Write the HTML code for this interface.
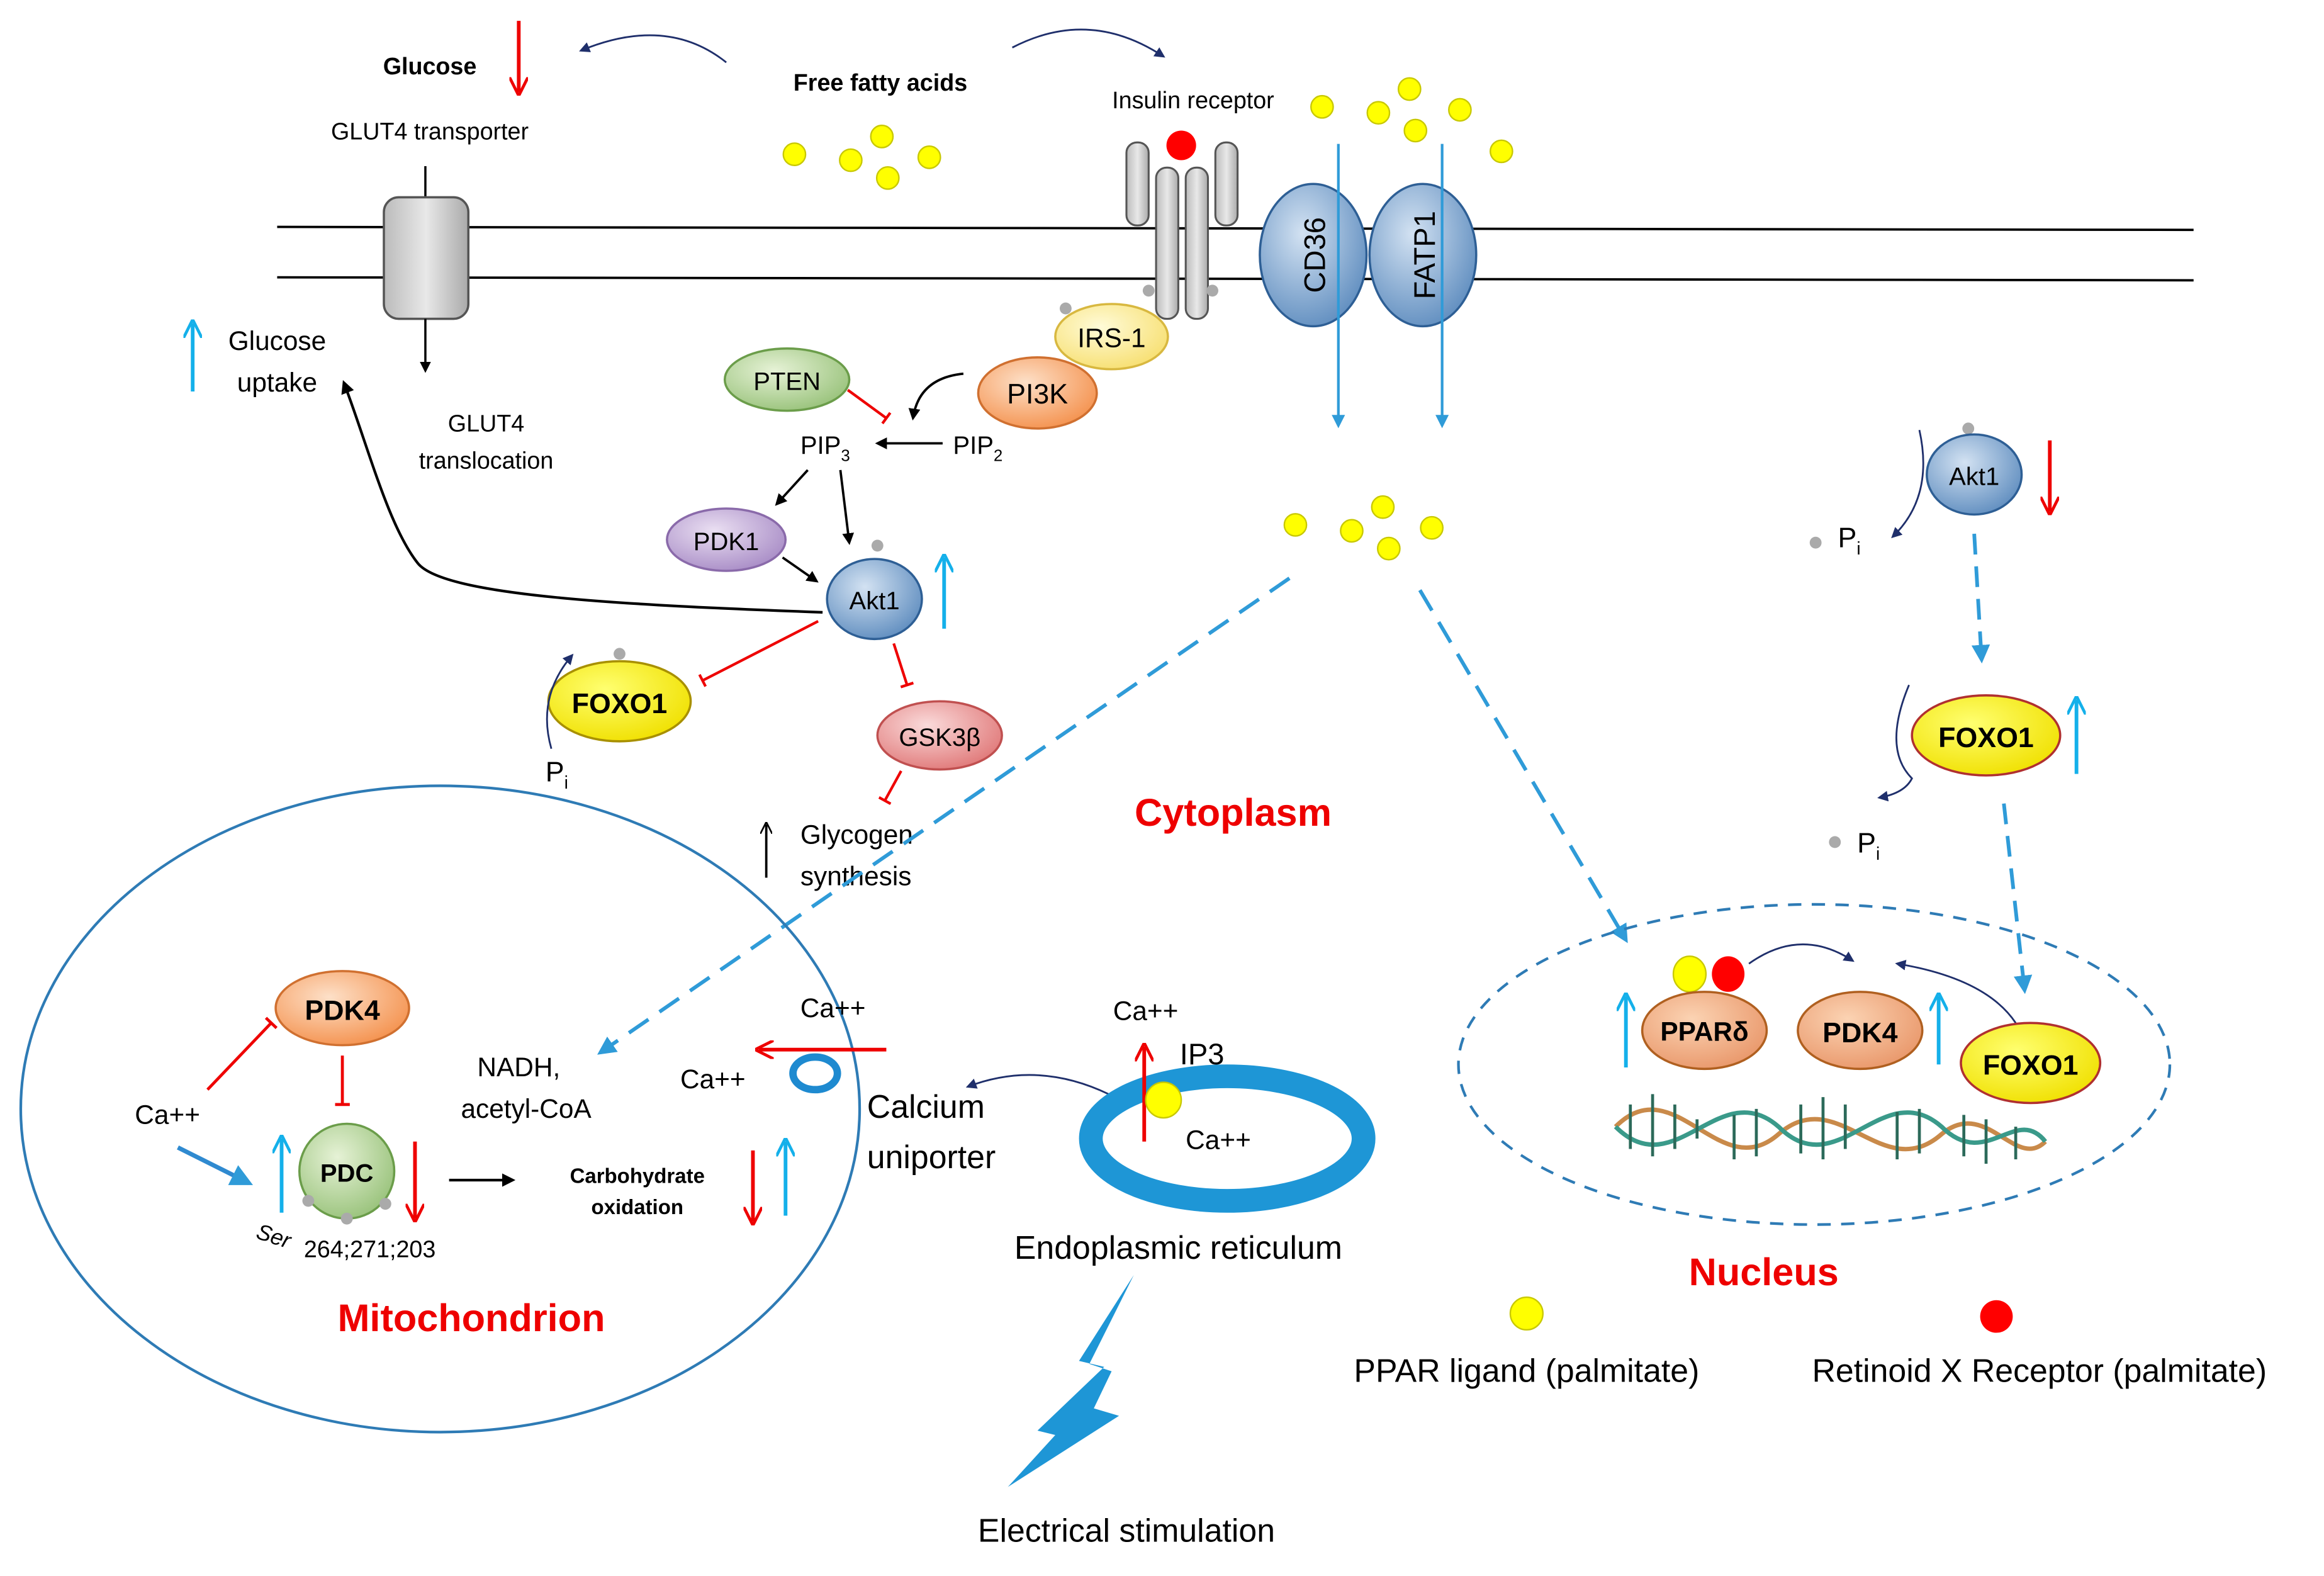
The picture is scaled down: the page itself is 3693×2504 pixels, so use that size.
<!DOCTYPE html>
<html><head><meta charset="utf-8"><style>
html,body{margin:0;padding:0;background:#fff;}
svg{display:block;}
text{font-family:"Liberation Sans",sans-serif;}
</style></head><body>
<svg width="3693" height="2504" viewBox="0 0 1568 1063" xmlns="http://www.w3.org/2000/svg">
<defs>
<radialGradient id="gBlue" cx="40%" cy="35%" r="70%"><stop offset="0" stop-color="#d3e2f2"/><stop offset="1" stop-color="#5f8dbf"/></radialGradient>
<radialGradient id="gOr" cx="40%" cy="35%" r="70%"><stop offset="0" stop-color="#fde0c8"/><stop offset="1" stop-color="#f4914d"/></radialGradient>
<radialGradient id="gOr2" cx="40%" cy="35%" r="70%"><stop offset="0" stop-color="#fbd3b3"/><stop offset="1" stop-color="#e9976a"/></radialGradient>
<radialGradient id="gYel" cx="40%" cy="35%" r="70%"><stop offset="0" stop-color="#ffff70"/><stop offset="1" stop-color="#f0e000"/></radialGradient>
<radialGradient id="gLY" cx="40%" cy="35%" r="70%"><stop offset="0" stop-color="#fffbd8"/><stop offset="1" stop-color="#f7df70"/></radialGradient>
<radialGradient id="gGr" cx="40%" cy="35%" r="70%"><stop offset="0" stop-color="#e6f2d6"/><stop offset="1" stop-color="#98c27a"/></radialGradient>
<radialGradient id="gPu" cx="40%" cy="35%" r="70%"><stop offset="0" stop-color="#eadff2"/><stop offset="1" stop-color="#a88cc6"/></radialGradient>
<radialGradient id="gPk" cx="40%" cy="35%" r="70%"><stop offset="0" stop-color="#fadada"/><stop offset="1" stop-color="#e07878"/></radialGradient>
<linearGradient id="gGray" x1="0" x2="1"><stop offset="0" stop-color="#bbb"/><stop offset=".5" stop-color="#e8e8e8"/><stop offset="1" stop-color="#aaa"/></linearGradient>
<marker id="aK" viewBox="0 0 10 10" refX="8" refY="5" markerWidth="5" markerHeight="5" orient="auto"><path d="M0,0L10,5L0,10z" fill="#000"/></marker>
<marker id="aN" viewBox="0 0 10 10" refX="8" refY="5" markerWidth="6" markerHeight="6" orient="auto"><path d="M0,0L10,5L0,10z" fill="#1f2f6b"/></marker>
<marker id="aC" viewBox="0 0 10 10" refX="8" refY="5" markerWidth="5" markerHeight="5" orient="auto"><path d="M0,0L10,5L0,10z" fill="#2f9bd8"/></marker>
<marker id="aCo" viewBox="0 0 10 10" refX="8" refY="5" markerWidth="5" markerHeight="5" orient="auto"><path d="M0,0L10,5L0,10" fill="none" stroke="#14b0ea" stroke-width="1.6"/></marker>
<marker id="aR" viewBox="0 0 10 10" refX="8" refY="5" markerWidth="5" markerHeight="5" orient="auto"><path d="M0,0L10,5L0,10" fill="none" stroke="#e00" stroke-width="1.6"/></marker>
<marker id="aKo" viewBox="0 0 10 10" refX="8" refY="5" markerWidth="5" markerHeight="5" orient="auto"><path d="M0,0L10,5L0,10" fill="none" stroke="#000" stroke-width="1.4"/></marker>
<marker id="tR" viewBox="0 0 10 10" refX="5" refY="5" markerWidth="5" markerHeight="5" orient="auto"><path d="M5,0L5,10" stroke="#e00" stroke-width="2"/></marker>
</defs>

<line x1="187" y1="153" x2="1480" y2="155" stroke="#000" stroke-width="1.6"/>
<line x1="187" y1="187" x2="1480" y2="189" stroke="#000" stroke-width="1.6"/>

<text x="290" y="50" font-size="16" font-weight="bold" text-anchor="middle">Glucose</text>
<line x1="350" y1="14" x2="350" y2="62" stroke="#e00" stroke-width="2.5" marker-end="url(#aR)"/>
<path d="M490,42 Q450,10 392,34" fill="none" stroke="#1f2f6b" stroke-width="1.2" marker-end="url(#aN)"/>
<text x="290" y="94" font-size="16" text-anchor="middle">GLUT4 transporter</text>
<line x1="287" y1="112" x2="287" y2="134" stroke="#000" stroke-width="1.5"/>
<rect x="259" y="133" width="57" height="82" rx="10" fill="url(#gGray)" stroke="#555" stroke-width="1.5"/>
<line x1="287" y1="215" x2="287" y2="250" stroke="#000" stroke-width="1.5" marker-end="url(#aK)"/>
<text x="328" y="291" font-size="16" text-anchor="middle">GLUT4</text>
<text x="328" y="316" font-size="16" text-anchor="middle">translocation</text>
<line x1="130" y1="264" x2="130" y2="218" stroke="#14b0ea" stroke-width="2.5" marker-end="url(#aCo)"/>
<text x="187" y="236" font-size="18" text-anchor="middle">Glucose</text>
<text x="187" y="264" font-size="18" text-anchor="middle">uptake</text>

<text x="594" y="61" font-size="16" font-weight="bold" text-anchor="middle">Free fatty acids</text>
<path d="M683,32 Q735,5 785,38" fill="none" stroke="#1f2f6b" stroke-width="1.2" marker-end="url(#aN)"/>
<g fill="#ffff00" stroke="#c8c800" stroke-width="1">
<circle cx="536" cy="104" r="7.5"/><circle cx="574" cy="108" r="7.5"/><circle cx="595" cy="92" r="7.5"/><circle cx="599" cy="120" r="7.5"/><circle cx="627" cy="106" r="7.5"/>
<circle cx="892" cy="72" r="7.5"/><circle cx="930" cy="76" r="7.5"/><circle cx="951" cy="60" r="7.5"/><circle cx="955" cy="88" r="7.5"/><circle cx="985" cy="74" r="7.5"/><circle cx="1013" cy="102" r="7.5"/>
<circle cx="874" cy="354" r="7.5"/><circle cx="912" cy="358" r="7.5"/><circle cx="933" cy="342" r="7.5"/><circle cx="937" cy="370" r="7.5"/><circle cx="966" cy="356" r="7.5"/>
</g>

<text x="805" y="73" font-size="16" text-anchor="middle">Insulin receptor</text>
<g fill="url(#gGray)" stroke="#555" stroke-width="1.3">
<rect x="760" y="96" width="15" height="56" rx="7"/>
<rect x="780" y="113" width="15" height="102" rx="7"/>
<rect x="800" y="113" width="15" height="102" rx="7"/>
<rect x="820" y="96" width="15" height="56" rx="7"/>
</g>
<circle cx="797" cy="98" r="10" fill="#f00"/>
<circle cx="775" cy="196" r="4" fill="#aaa"/><circle cx="818" cy="196" r="4" fill="#aaa"/><circle cx="719" cy="208" r="4" fill="#aaa"/>

<ellipse cx="886" cy="172" rx="36" ry="48" fill="url(#gBlue)" stroke="#2e5f95" stroke-width="1.5"/>
<text transform="translate(894,172) rotate(-90)" font-size="20" text-anchor="middle">CD36</text>
<ellipse cx="960" cy="172" rx="36" ry="48" fill="url(#gBlue)" stroke="#2e5f95" stroke-width="1.5"/>
<text transform="translate(968,172) rotate(-90)" font-size="20" text-anchor="middle">FATP1</text>
<line x1="903" y1="97" x2="903" y2="287" stroke="#2f9bd8" stroke-width="1.8" marker-end="url(#aC)"/>
<line x1="973" y1="97" x2="973" y2="287" stroke="#2f9bd8" stroke-width="1.8" marker-end="url(#aC)"/>

<ellipse cx="750" cy="227" rx="38" ry="22" fill="url(#gLY)" stroke="#d8b840" stroke-width="1.5"/>
<text x="750" y="234" font-size="18" text-anchor="middle">IRS-1</text>
<ellipse cx="700" cy="265" rx="40" ry="24" fill="url(#gOr)" stroke="#d07030" stroke-width="1.5"/>
<text x="700" y="272" font-size="19" text-anchor="middle">PI3K</text>
<ellipse cx="531" cy="256" rx="42" ry="21" fill="url(#gGr)" stroke="#6b9d4a" stroke-width="1.5"/>
<text x="531" y="263" font-size="17" text-anchor="middle">PTEN</text>
<line x1="572" y1="263" x2="598" y2="282" stroke="#e00" stroke-width="1.8" marker-end="url(#tR)"/>
<path d="M650,252 Q620,255 616,282" fill="none" stroke="#000" stroke-width="1.6" marker-end="url(#aK)"/>
<text x="540" y="306" font-size="17">PIP<tspan font-size="11" dy="5">3</tspan></text>
<text x="643" y="306" font-size="17">PIP<tspan font-size="11" dy="5">2</tspan></text>
<line x1="636" y1="299" x2="592" y2="299" stroke="#000" stroke-width="1.6" marker-end="url(#aK)"/>
<line x1="545" y1="317" x2="524" y2="340" stroke="#000" stroke-width="1.6" marker-end="url(#aK)"/>
<line x1="567" y1="317" x2="573" y2="366" stroke="#000" stroke-width="1.6" marker-end="url(#aK)"/>
<ellipse cx="490" cy="364" rx="40" ry="21" fill="url(#gPu)" stroke="#8a6aaa" stroke-width="1.5"/>
<text x="490" y="371" font-size="17" text-anchor="middle">PDK1</text>
<line x1="528" y1="376" x2="551" y2="392" stroke="#000" stroke-width="1.6" marker-end="url(#aK)"/>
<circle cx="592" cy="368" r="4" fill="#aaa"/>
<ellipse cx="590" cy="404" rx="32" ry="27" fill="url(#gBlue)" stroke="#2e5f95" stroke-width="1.5"/>
<text x="590" y="411" font-size="17" text-anchor="middle">Akt1</text>
<line x1="637" y1="424" x2="637" y2="376" stroke="#14b0ea" stroke-width="2.5" marker-end="url(#aCo)"/>
<path d="M555,413 C420,408 300,402 282,380 C262,355 248,300 232,258" fill="none" stroke="#000" stroke-width="1.8" marker-end="url(#aK)"/>
<line x1="552" y1="419" x2="474" y2="459" stroke="#e00" stroke-width="1.8" marker-end="url(#tR)"/>
<line x1="603" y1="434" x2="612" y2="462" stroke="#e00" stroke-width="1.8" marker-end="url(#tR)"/>
<circle cx="418" cy="441" r="4" fill="#aaa"/>
<ellipse cx="418" cy="473" rx="48" ry="27" fill="url(#gYel)" stroke="#a89000" stroke-width="1.5"/>
<text x="418" y="481" font-size="19" font-weight="bold" text-anchor="middle">FOXO1</text>
<path d="M372,505 Q362,470 386,442" fill="none" stroke="#1f2f6b" stroke-width="1.2" marker-end="url(#aN)"/>
<text x="368" y="527" font-size="19">P<tspan font-size="12" dy="5">i</tspan></text>
<ellipse cx="634" cy="496" rx="42" ry="23" fill="url(#gPk)" stroke="#c05050" stroke-width="1.5"/>
<text x="634" y="503" font-size="17" text-anchor="middle">GSK3β</text>
<line x1="608" y1="520" x2="597" y2="540" stroke="#e00" stroke-width="1.8" marker-end="url(#tR)"/>
<line x1="517" y1="592" x2="517" y2="556" stroke="#000" stroke-width="1.6" marker-end="url(#aKo)"/>
<text x="540" y="569" font-size="18">Glycogen</text>
<text x="540" y="597" font-size="18">synthesis</text>

<text x="832" y="557" font-size="26" font-weight="bold" fill="#e00" text-anchor="middle">Cytoplasm</text>

<line x1="870" y1="390" x2="405" y2="710" stroke="#2f9bd8" stroke-width="2.5" stroke-dasharray="16,9" marker-end="url(#aC)"/>
<line x1="958" y1="398" x2="1097" y2="634" stroke="#2f9bd8" stroke-width="2.5" stroke-dasharray="16,9" marker-end="url(#aC)"/>

<circle cx="1328" cy="289" r="4" fill="#aaa"/>
<ellipse cx="1332" cy="320" rx="32" ry="27" fill="url(#gBlue)" stroke="#2e5f95" stroke-width="1.5"/>
<text x="1332" y="327" font-size="17" text-anchor="middle">Akt1</text>
<line x1="1383" y1="297" x2="1383" y2="345" stroke="#e00" stroke-width="2.5" marker-end="url(#aR)"/>
<path d="M1295,290 Q1305,335 1277,362" fill="none" stroke="#1f2f6b" stroke-width="1.2" marker-end="url(#aN)"/>
<circle cx="1225" cy="366" r="4" fill="#aaa"/>
<text x="1240" y="369" font-size="19">P<tspan font-size="12" dy="5">i</tspan></text>
<line x1="1332" y1="360" x2="1337" y2="445" stroke="#2f9bd8" stroke-width="2.5" stroke-dasharray="14,8" marker-end="url(#aC)"/>
<ellipse cx="1340" cy="496" rx="50" ry="27" fill="url(#gYel)" stroke="#b03030" stroke-width="1.5"/>
<text x="1340" y="504" font-size="19" font-weight="bold" text-anchor="middle">FOXO1</text>
<line x1="1401" y1="522" x2="1401" y2="472" stroke="#14b0ea" stroke-width="2.5" marker-end="url(#aCo)"/>
<path d="M1288,462 Q1270,505 1290,525 Q1285,535 1268,538" fill="none" stroke="#1f2f6b" stroke-width="1.2" marker-end="url(#aN)"/>
<circle cx="1238" cy="568" r="4" fill="#aaa"/>
<text x="1253" y="575" font-size="19">P<tspan font-size="12" dy="5">i</tspan></text>
<line x1="1352" y1="542" x2="1366" y2="668" stroke="#2f9bd8" stroke-width="2.5" stroke-dasharray="14,8" marker-end="url(#aC)"/>

<ellipse cx="1224" cy="718" rx="240" ry="108" fill="none" stroke="#2e7bb5" stroke-width="1.8" stroke-dasharray="9,7"/>
<g fill="none" stroke-width="3">
<path d="M1090,760 C1130,720 1160,800 1200,765 C1240,730 1270,800 1310,765 C1340,740 1360,790 1380,770" stroke="#c98a4a"/>
<path d="M1090,760 C1130,800 1160,725 1200,760 C1240,800 1270,725 1310,760 C1340,790 1360,745 1380,770" stroke="#3a9a8a"/>
<path d="M1100,745 L1100,775 M1115,738 L1115,780 M1130,745 L1130,775 M1145,755 L1145,768 M1170,752 L1170,782 M1185,748 L1185,780 M1215,745 L1215,778 M1230,740 L1230,782 M1245,745 L1245,775 M1280,750 L1280,782 M1295,748 L1295,778 M1325,752 L1325,780 M1340,755 L1340,785 M1360,760 L1360,782" stroke="#2c6a5a" stroke-width="2"/>
</g>
<ellipse cx="1140" cy="657" rx="11" ry="12" fill="#ffff00" stroke="#c8c800"/>
<ellipse cx="1166" cy="657" rx="11" ry="12" fill="#f00"/>
<ellipse cx="1150" cy="695" rx="42" ry="26" fill="url(#gOr2)" stroke="#b06020" stroke-width="1.5"/>
<text x="1150" y="702" font-size="18" font-weight="bold" text-anchor="middle">PPARδ</text>
<ellipse cx="1255" cy="695" rx="42" ry="26" fill="url(#gOr2)" stroke="#b06020" stroke-width="1.5"/>
<text x="1255" y="703" font-size="19" font-weight="bold" text-anchor="middle">PDK4</text>
<line x1="1097" y1="720" x2="1097" y2="672" stroke="#14b0ea" stroke-width="2.5" marker-end="url(#aCo)"/>
<line x1="1308" y1="718" x2="1308" y2="672" stroke="#14b0ea" stroke-width="2.5" marker-end="url(#aCo)"/>
<path d="M1180,650 Q1215,625 1250,648" fill="none" stroke="#1f2f6b" stroke-width="1.2" marker-end="url(#aN)"/>
<path d="M1360,690 Q1340,660 1280,650" fill="none" stroke="#1f2f6b" stroke-width="1.2" marker-end="url(#aN)"/>
<ellipse cx="1370" cy="717" rx="47" ry="27" fill="url(#gYel)" stroke="#b03030" stroke-width="1.5"/>
<text x="1370" y="725" font-size="19" font-weight="bold" text-anchor="middle">FOXO1</text>
<text x="1190" y="867" font-size="26" font-weight="bold" fill="#e00" text-anchor="middle">Nucleus</text>

<circle cx="1030" cy="886" r="11" fill="#ffff00" stroke="#c8c800"/>
<circle cx="1347" cy="888" r="11" fill="#f00"/>
<text x="1030" y="932" font-size="22" text-anchor="middle">PPAR ligand (palmitate)</text>
<text x="1376" y="932" font-size="22" text-anchor="middle">Retinoid X Receptor (palmitate)</text>

<ellipse cx="297" cy="748" rx="283" ry="218" fill="none" stroke="#2e7bb5" stroke-width="1.8"/>
<ellipse cx="231" cy="680" rx="45" ry="25" fill="url(#gOr)" stroke="#d07030" stroke-width="1.5"/>
<text x="231" y="688" font-size="19" font-weight="bold" text-anchor="middle">PDK4</text>
<line x1="140" y1="735" x2="183" y2="690" stroke="#e00" stroke-width="2" marker-end="url(#tR)"/>
<line x1="231" y1="712" x2="231" y2="745" stroke="#e00" stroke-width="2" marker-end="url(#tR)"/>
<text x="113" y="758" font-size="18" text-anchor="middle">Ca++</text>
<line x1="120" y1="774" x2="168" y2="798" stroke="#2f8ad0" stroke-width="3" marker-end="url(#aC)"/>
<line x1="190" y1="818" x2="190" y2="768" stroke="#14b0ea" stroke-width="2.5" marker-end="url(#aCo)"/>
<circle cx="234" cy="790" r="32" fill="url(#gGr)" stroke="#6b9d4a" stroke-width="1.5"/>
<text x="234" y="797" font-size="17" font-weight="bold" text-anchor="middle">PDC</text>
<circle cx="208" cy="810" r="4" fill="#aaa"/><circle cx="234" cy="822" r="4" fill="#aaa"/><circle cx="260" cy="812" r="4" fill="#aaa"/>
<line x1="280" y1="770" x2="280" y2="822" stroke="#e00" stroke-width="2.5" marker-end="url(#aR)"/>
<text transform="translate(172,835) rotate(18)" font-size="15" font-style="italic">Ser</text>
<text x="205" y="848" font-size="16">264;271;203</text>
<line x1="303" y1="796" x2="346" y2="796" stroke="#000" stroke-width="1.8" marker-end="url(#aK)"/>
<text x="430" y="798" font-size="14" font-weight="bold" text-anchor="middle">Carbohydrate</text>
<text x="430" y="819" font-size="14" font-weight="bold" text-anchor="middle">oxidation</text>
<line x1="508" y1="776" x2="508" y2="824" stroke="#e00" stroke-width="2.5" marker-end="url(#aR)"/>
<line x1="530" y1="820" x2="530" y2="770" stroke="#14b0ea" stroke-width="2.5" marker-end="url(#aCo)"/>
<text x="350" y="726" font-size="18" text-anchor="middle">NADH,</text>
<text x="355" y="754" font-size="18" text-anchor="middle">acetyl-CoA</text>
<text x="318" y="898" font-size="26" font-weight="bold" fill="#e00" text-anchor="middle">Mitochondrion</text>
<text x="481" y="734" font-size="18" text-anchor="middle">Ca++</text>
<text x="562" y="686" font-size="18" text-anchor="middle">Ca++</text>
<line x1="598" y1="708" x2="512" y2="708" stroke="#e00" stroke-width="2.5" marker-end="url(#aR)"/>
<ellipse cx="550" cy="724" rx="15" ry="11" fill="none" stroke="#1e8ad0" stroke-width="5"/>

<text x="585" y="754" font-size="22">Calcium</text>
<text x="585" y="788" font-size="22">uniporter</text>
<path d="M748,738 Q700,715 653,733" fill="none" stroke="#1f2f6b" stroke-width="1.2" marker-end="url(#aN)"/>
<ellipse cx="828" cy="768" rx="92" ry="42" fill="none" stroke="#1e96d6" stroke-width="16"/>
<text x="773" y="688" font-size="18" text-anchor="middle">Ca++</text>
<line x1="772" y1="770" x2="772" y2="706" stroke="#e00" stroke-width="2.5" marker-end="url(#aR)"/>
<circle cx="785" cy="742" r="12" fill="#ffff00" stroke="#c8c800"/>
<text x="796" y="718" font-size="20">IP3</text>
<text x="822" y="775" font-size="18" text-anchor="middle">Ca++</text>
<text x="795" y="849" font-size="22" text-anchor="middle">Endoplasmic reticulum</text>
<polygon points="765,860 728,918 745,922 700,965 712,968 680,1003 755,955 738,950 750,925 735,920" fill="#1e96d6"/>
<text x="760" y="1040" font-size="22" text-anchor="middle">Electrical stimulation</text>
</svg>
</body></html>
